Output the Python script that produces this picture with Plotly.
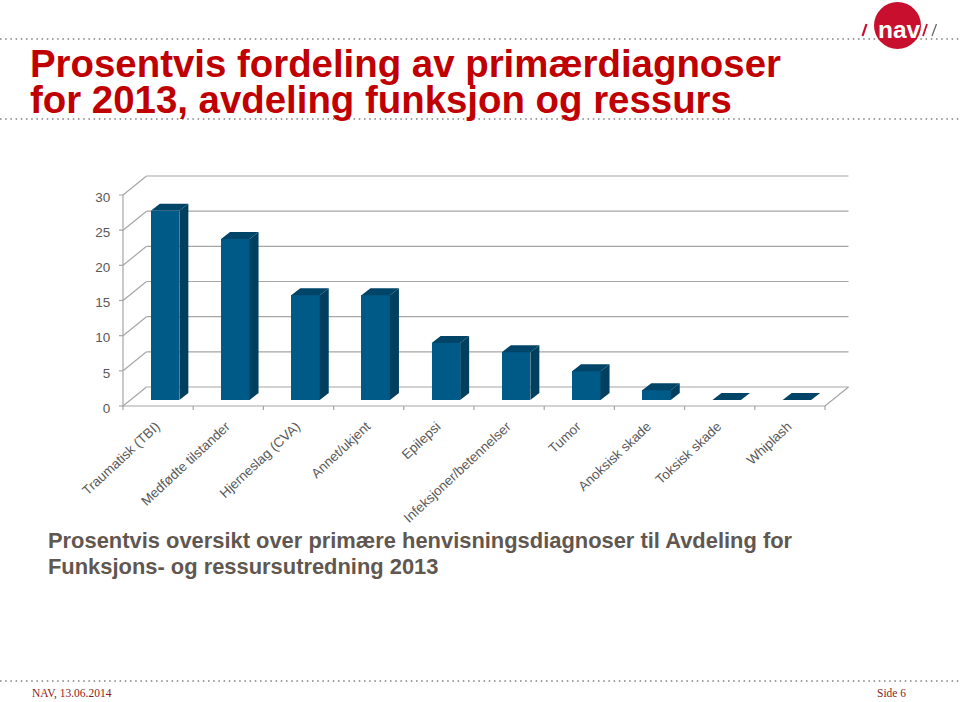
import plotly.graph_objects as go

categories = ["Traumatisk (TBI)", "Medfødte tilstander", "Hjerneslag (CVA)", "Annet/ukjent", "Epilepsi",
              "Infeksjoner/betennelser", "Tumor", "Anoksisk skade", "Toksisk skade", "Whiplash"]
values = [26.9, 22.9, 14.9, 14.9, 8.1, 6.8, 4.1, 1.4, 0, 0]
y_ticks = [0, 5, 10, 15, 20, 25, 30]
title_lines = ["Prosentvis fordeling av primærdiagnoser", "for 2013, avdeling funksjon og ressurs"]
body_lines = ["Prosentvis oversikt over primære henvisningsdiagnoser til Avdeling for",
              "Funksjons- og ressursutredning 2013"]

W, H = 960, 702
L, R, B, T = 123, 825, 406, 195
PAD = 5
ux = (R - L) / len(categories)
uy = (B - T) / 30
wall_dx, wall_dy = 23.5 / ux, 19 / uy      # depth of chart box
bar_x, bar_y = 7 / ux, 6 / uy              # bar position in the depth
bar_w = 28.5 / ux
depth_x, depth_y = 9 / ux, 7 / uy          # depth of a bar

GRID = "#a6a6a6"
FRONT = "#005a87"
SIDE = "#003f5e"
TOP = "#004567"

fig = go.Figure()
xl, xr = -0.5, len(categories) - 0.5

shapes = []


def seg(x0, y0, x1, y1):
    shapes.append(dict(type="line", xref="x", yref="y", x0=x0, y0=y0, x1=x1, y1=y1, layer="below",
                       line=dict(color=GRID, width=1.2)))


for t in y_ticks:
    seg(xl, t, xl + wall_dx, t + wall_dy)
    seg(xl + wall_dx, t + wall_dy, xr + wall_dx, t + wall_dy)
    seg(xl - 4 / ux, t, xl, t)
seg(xr, 0, xr + wall_dx, wall_dy)
seg(xl, 0, xr, 0)
seg(xl, 0, xl, 30)
for i in range(len(categories) + 1):
    seg(xl + i, 0, xl + i, -4 / uy)

fig.add_trace(go.Bar(x=list(range(len(categories))), y=values, base=bar_y, offset=bar_x - bar_w / 2, width=bar_w,
                     marker=dict(color=FRONT, line=dict(width=0)), hoverinfo="skip", showlegend=False,
                     cliponaxis=False))
for i, v in enumerate(values):
    x0 = i - bar_w / 2 + bar_x
    x1 = x0 + bar_w
    y0 = bar_y
    y1 = bar_y + v
    if v > 0:
        fig.add_trace(go.Scatter(x=[x1, x1 + depth_x, x1 + depth_x, x1, x1], y=[y0, y0 + depth_y, y1 + depth_y, y1, y0],
                                 mode="lines", fill="toself", fillcolor=SIDE, line=dict(width=0), cliponaxis=False,
                                 hoverinfo="skip", showlegend=False))
    fig.add_trace(go.Scatter(x=[x0, x1, x1 + depth_x, x0 + depth_x, x0], y=[y1, y1, y1 + depth_y, y1 + depth_y, y1],
                             mode="lines", fill="toself", fillcolor=TOP, line=dict(width=0), cliponaxis=False,
                             hoverinfo="skip", showlegend=False))

annotations = []


def text(px, py, s, size, color, bold=False, family="Liberation Sans", anchor="left"):
    annotations.append(dict(x=px / W, y=1 - py / H, xref="paper", yref="paper", text=f"<b>{s}</b>" if bold else s,
                            showarrow=False, xanchor=anchor, yanchor="middle", borderpad=0, borderwidth=0,
                            font=dict(size=size, color=color, family=family)))


text(30, 63, title_lines[0], 38.4, "#c00000", True)
text(30, 100, title_lines[1], 38.4, "#c00000", True)
text(48, 540.5, body_lines[0], 21.9, "#5f5750", True)
text(48, 566.5, body_lines[1], 21.9, "#5f5750", True)
text(32, 693, "NAV, 13.06.2014", 11.5, "#8b1a1a", family="Liberation Serif")
text(906, 693, "Side 6", 11.5, "#8b1a1a", family="Liberation Serif", anchor="right")

for y in (39, 119, 681):
    shapes.append(dict(type="line", xref="paper", yref="paper", x0=0, x1=1, y0=1 - y / H, y1=1 - y / H,
                       line=dict(color="#7f7f7f", width=1.5, dash="1.5px,3.7px")))
shapes.append(dict(type="circle", xref="paper", yref="paper", x0=874 / W, x1=921 / W, y0=1 - 49 / H, y1=1 - 2 / H,
                   fillcolor="#c8102e", line=dict(width=0)))
for a, b, c, w in [(862.5, 866.5, "#c8102e", 2.2), (923, 927, "#c8102e", 1.8), (932, 936.5, "#666666", 1.3)]:
    shapes.append(dict(type="line", xref="paper", yref="paper", x0=a / W, x1=b / W, y0=1 - 36 / H, y1=1 - 24 / H,
                       line=dict(color=c, width=w)))
text(899, 29, "nav", 24.5, "#ffffff", True, anchor="center")

fig.update_layout(
    width=W, height=H, autosize=False, margin=dict(l=0, r=0, t=0, b=0, pad=0),
    paper_bgcolor="white", plot_bgcolor="rgba(0,0,0,0)", showlegend=False, bargap=0,
    font=dict(family="Liberation Sans", color="#595959", size=13),
    shapes=shapes, annotations=annotations,
    xaxis=dict(domain=[(L - PAD) / W, (R + 23.5 + PAD) / W], range=[xl - PAD / ux, xr + wall_dx + PAD / ux],
               automargin=False, tickmode="array", tickvals=list(range(len(categories))),
               ticktext=categories, tickangle=-43, ticks="", showgrid=False, zeroline=False,
               showline=False, tickfont=dict(size=13.5, color="#595959"), ticklabelstandoff=4, ticklabelshift=-2),
    yaxis=dict(domain=[1 - (B + PAD) / H, 1 - (T - 19 - PAD) / H], range=[-PAD / uy, 30 + wall_dy + PAD / uy],
               automargin=False, tickmode="array", tickvals=y_ticks, ticks="outside", ticklen=4,
               tickcolor="rgba(0,0,0,0)", showgrid=False, zeroline=False, showline=False,
               tickfont=dict(size=13.5, color="#595959"), ticklabelshift=2),
)
fig.write_html("out.html", post_script="document.body.style.margin='0';", config={"displayModeBar": False})
